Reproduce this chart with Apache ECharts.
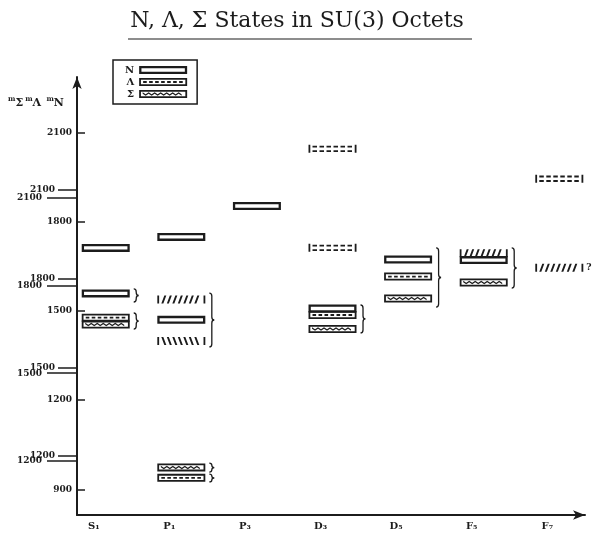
<!DOCTYPE html>
<html>
<head>
<meta charset="utf-8">
<title>N, Λ, Σ States in SU(3) Octets</title>
<script src="https://cdn.jsdelivr.net/npm/echarts@6/dist/echarts.min.js"></script>
<style>
html, body { margin: 0; padding: 0; background: #fff; }
#chart { width: 594px; height: 543px; }
</style>
</head>
<body>
<div id="chart"></div>
<script>
// partial waves along the x axis
const waves = ['S₁', 'P₁', 'P₃', 'D₃', 'D₅', 'F₅', 'F₇'];

const nStates = [['S₁', 1712], ['S₁', 1559], ['P₁', 1749], ['P₁', 1470], ['P₃', 1853], ['D₃', 1508], ['D₅', 1673], ['F₅', 1671]];
const lambdaStates = [['S₁', 1668], ['P₁', 1126], ['D₃', 1677], ['D₅', 1807]];
const sigmaStates = [['S₁', 1666], ['P₁', 1178], ['D₃', 1651], ['D₅', 1755], ['F₅', 1810]];
const lambdaHatched = [['P₁', 1589]];
const sigmaHatched = [['P₁', 1752], ['F₅', 1910], ['F₇', 1860]];
const predicted = [['D₃', 2239], ['D₃', 1904], ['F₇', 2138]];
const doubtful = ['F₇'];

// octet groupings drawn as braces: wave, top and bottom mass on the N scale
const octets = [['S₁', 1574, 1530], ['S₁', 1493, 1439], ['P₁', 1560, 1379], ['P₁', 988, 958], ['P₁', 951, 925],
                ['D₃', 1520, 1426], ['D₅', 1712, 1513], ['F₅', 1712, 1577]];

// tick labels of the three staggered mass scales
const nTicks = [900, 1200, 1500, 1800, 2100];
const lambdaTicks = [1200, 1500, 1800, 2100];
const sigmaTicks = [1200, 1500, 1800, 2100];

const ink = '#1c1c1c';
const serif = 'DejaVu Serif';

// bar symbols, 48 x 8
const W = 48, H = 8;
function rect(x0, y0, x1, y1) { return `M${x0} ${y0}L${x1} ${y0}L${x1} ${y1}L${x0} ${y1}Z`; }
function hole(x0, y0, x1, y1) { return `M${x0} ${y0}L${x0} ${y1}L${x1} ${y1}L${x1} ${y0}Z`; }
function frame(t) { return rect(0, 0, W, H) + hole(t, t, W - t, H - t); }
function dashes(y0, y1, step, len) {
    let d = '';
    for (let x = 4; x + len <= W - 3; x += step) d += rect(x, y0, x + len, y1);
    return d;
}
function wave() {
    const top = [], bot = [];
    for (let x = 3.5, i = 0; x <= 45; x += 3, i++) {
        const y = i % 2 ? 5 : 3;
        top.push([x, y - 0.75]);
        bot.push([x, y + 0.75]);
    }
    const pts = top.concat(bot.reverse());
    return 'M' + pts.map(p => p.join(' ')).join('L') + 'Z';
}
function hatch(back) {
    let d = rect(0, 0, 1.8, H) + rect(W - 1.8, 0, W, H);
    for (let x = 4; x <= 40; x += 5.5) {
        d += back ? `M${x} 0L${x + 2} 0L${x + 5} ${H}L${x + 3} ${H}Z`
                  : `M${x} ${H}L${x + 2} ${H}L${x + 5} 0L${x + 3} 0Z`;
    }
    return d;
}

const nPath = 'path://' + frame(2.3);
const lambdaPath = 'path://' + frame(1.8) + dashes(3.1, 4.9, 6, 3.6);
const sigmaPath = 'path://' + frame(1.8) + wave();
const hatchPath = 'path://' + hatch(false);
const backHatchPath = 'path://' + hatch(true);
const predictedPath = 'path://' + rect(0, 0, 1.8, H) + rect(W - 1.8, 0, W, H) + dashes(0.8, 2.7, 7, 4.5) + dashes(5.3, 7.2, 7, 4.5);

const toPoints = list => list.map(s => [waves.indexOf(s[0]) + 1, s[1]]);

function levels(name, data, symbol, axis) {
    return {
        name: name,
        type: 'scatter',
        xAxisIndex: axis,
        yAxisIndex: axis,
        data: toPoints(data),
        symbol: symbol,
        symbolSize: [W, H],
        symbolKeepAspect: false,
        itemStyle: { color: ink, opacity: 1 },
        emphasis: { disabled: true },
        silent: true
    };
}

function massAxis(grid, min, max, ticks, tickLen, inside, margin, showLine) {
    return {
        type: 'value',
        gridIndex: grid,
        min: min,
        max: max,
        position: 'left',
        axisLine: {
            show: showLine,
            onZero: false,
            symbol: ['none', 'arrow'],
            symbolSize: [7, 12],
            lineStyle: { color: ink, width: 2 }
        },
        axisTick: { show: true, inside: inside, length: tickLen, customValues: ticks, lineStyle: { color: ink, width: 1.5 } },
        axisLabel: {
            customValues: ticks,
            formatter: v => String(v),
            margin: margin,
            color: ink,
            fontFamily: serif,
            fontWeight: 'bold',
            fontSize: 9
        },
        splitLine: { show: false }
    };
}

const chart = echarts.init(document.getElementById('chart'));
const gridBox = { left: 77, right: 9, top: 77, bottom: 28, outerBoundsMode: 'none' };

const symbolSeries = [
    levels('N', nStates, nPath, 0),
    levels('Λ', lambdaStates, lambdaPath, 1),
    levels('Σ', sigmaStates, sigmaPath, 2),
    levels('Λ hatched', lambdaHatched, backHatchPath, 1),
    levels('Σ hatched', sigmaHatched, hatchPath, 2),
    levels('predicted', predicted, predictedPath, 1)
];
symbolSeries[4].label = {
    show: true,
    position: 'right',
    distance: 3,
    color: ink,
    fontFamily: serif,
    fontWeight: 'bold',
    fontSize: 9,
    formatter: p => doubtful.includes(waves[p.value[0] - 1]) ? '?' : ''
};

chart.setOption({
    backgroundColor: '#fff',
    animation: false,
    title: {
        text: 'N, Λ, Σ States in SU(3) Octets',
        left: 'center',
        top: 5,
        textStyle: { fontFamily: serif, fontWeight: 'normal', fontSize: 22, color: ink }
    },
    legend: {
        data: [
            { name: 'N', icon: nPath },
            { name: 'Λ', icon: lambdaPath },
            { name: 'Σ', icon: sigmaPath }
        ],
        orient: 'vertical',
        left: 113,
        top: 60,
        align: 'right',
        itemWidth: 48,
        itemHeight: 8,
        itemGap: 0,
        padding: [4, 10, 4, 12],
        borderColor: ink,
        borderWidth: 1.5,
        selectedMode: false,
        textStyle: { fontFamily: serif, fontWeight: 'bold', fontSize: 10, color: ink, lineHeight: 12 }
    },
    graphic: [
        { type: 'line', shape: { x1: 128, y1: 39, x2: 472, y2: 39 }, style: { stroke: ink, lineWidth: 1.2 } },
        {
            type: 'text',
            left: 8,
            top: 96,
            style: {
                text: '{m|m}{b|Σ}{m|m}{b|Λ} {m|m}{b|N}',
                rich: {
                    m: { fontFamily: serif, fontSize: 7, fontWeight: 'bold', verticalAlign: 'top', fill: ink },
                    b: { fontFamily: serif, fontSize: 11, fontWeight: 'bold', lineHeight: 14, fill: ink, padding: [0, 2, 0, 0] }
                }
            }
        }
    ],
    grid: [gridBox, gridBox, gridBox],
    xAxis: [0, 1, 2].map(i => ({
        type: 'value',
        gridIndex: i,
        min: 0.62,
        max: 7.34,
        show: i === 0,
        axisLine: {
            show: true,
            onZero: false,
            symbol: ['none', 'arrow'],
            symbolSize: [7, 12],
            lineStyle: { color: ink, width: 2 }
        },
        axisTick: { show: false },
        splitLine: { show: false },
        axisLabel: {
            customValues: waves.map((w, k) => k + 1),
            formatter: v => waves[Math.round(v) - 1] || '',
            margin: 6,
            padding: [0, 24, 0, 0],
            color: ink,
            fontFamily: serif,
            fontWeight: 'bold',
            fontSize: 10
        }
    })),
    yAxis: [
        massAxis(0, 813.5, 2287, nTicks, 8, true, 5, true),
        massAxis(1, 1000.4, 2482, lambdaTicks, 19, false, 22, false),
        massAxis(2, 1015.4, 2512, sigmaTicks, 30, false, 35, false)
    ],
    series: symbolSeries.concat([{
        name: 'octets',
        type: 'custom',
        xAxisIndex: 0,
        yAxisIndex: 0,
        silent: true,
        encode: { x: 0, y: [1, 2] },
        data: octets.map(o => [waves.indexOf(o[0]) + 1, o[1], o[2]]),
        renderItem: (params, api) => {
            const top = api.coord([api.value(0), api.value(1)]);
            const bot = api.coord([api.value(0), api.value(2)]);
            const x = top[0] + 28, y0 = top[1], y1 = bot[1], ym = (y0 + y1) / 2;
            const c = Math.min(3, (y1 - y0) / 4), w = 2.5;
            const d = `M${x} ${y0}Q${x + w} ${y0} ${x + w} ${y0 + c}L${x + w} ${ym - c}Q${x + w} ${ym} ${x + 2 * w} ${ym}`
                    + `Q${x + w} ${ym} ${x + w} ${ym + c}L${x + w} ${y1 - c}Q${x + w} ${y1} ${x} ${y1}`;
            return { type: 'path', shape: { pathData: d }, style: { fill: 'none', stroke: ink, lineWidth: 1.3 } };
        }
    }])
});

window.addEventListener('resize', () => chart.resize());
</script>
</body>
</html>
